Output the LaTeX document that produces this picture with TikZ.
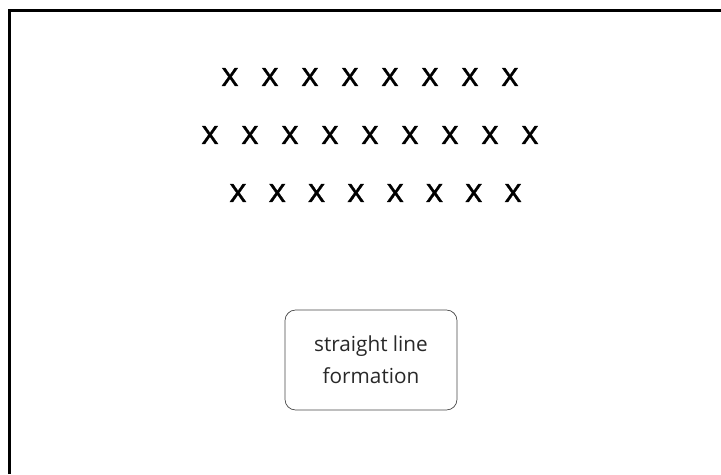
\documentclass[tikz,border=0pt]{standalone}
\usepackage{fontspec}
\setmainfont{Open Sans}
\newfontfamily\xfont[FakeBold=0.9]{Open Sans}
\usepackage{tikz}
\usetikzlibrary{positioning}
\definecolor{frameclr}{RGB}{0,0,0}
\definecolor{boxclr}{RGB}{70,70,70}
\definecolor{txtclr}{RGB}{40,40,40}
\tikzset{
  xmark/.style={inner sep=0pt,font=\xfont\fontsize{19}{20}\selectfont,text=black},
  lbl/.style={rectangle,draw=boxclr,thin,rounded corners=6pt,
              minimum width=3.44cm,minimum height=2cm,align=center,
              text=txtclr,font=\fontsize{11.8}{18}\selectfont},
}

\begin{document}
\begin{tikzpicture}[x=0.02cm,y=-0.02cm]
\useasboundingbox (0,0) rectangle (721,474);
% frame
\draw[frameclr,line width=1.6pt] (9.5,474) -- (9.5,10.5) -- (721,10.5);
% rows of soldiers
\foreach \i in {0,...,7}
  \node[xmark] (a\i) at (230+40*\i,77) {x};
\foreach \i in {0,...,8}
  \node[xmark] (b\i) at (210+40*\i,135) {x};
\foreach \i in {0,...,7}
  \node[xmark] (c\i) at (238+39.3*\i,193) {x};
\node[lbl] (form) at (371,360) {straight line\\formation};
\end{tikzpicture}
\end{document}
